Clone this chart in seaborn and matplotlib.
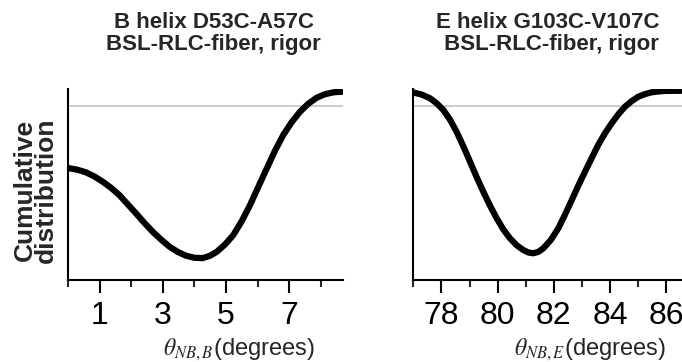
import matplotlib
matplotlib.use('Agg')
import matplotlib.pyplot as plt
from matplotlib.ticker import FixedLocator
import seaborn as sns

# B helix curve
b_theta = [0.0, 0.30, 0.57, 0.83, 1.10, 1.36, 1.62, 1.88, 2.15, 2.41, 2.68, 2.95,
           3.21, 3.47, 3.73, 4.00, 4.26, 4.50, 4.71, 4.97, 5.23, 5.50, 5.76, 6.03,
           6.29, 6.55, 6.81, 7.08, 7.34, 7.60, 7.87, 8.13, 8.40, 8.70]
b_cum = [0.645, 0.635, 0.620, 0.597, 0.566, 0.531, 0.490, 0.438, 0.384, 0.330, 0.278,
         0.232, 0.192, 0.162, 0.140, 0.128, 0.126, 0.140, 0.163, 0.205, 0.259, 0.340,
         0.432, 0.540, 0.643, 0.745, 0.835, 0.910, 0.969, 1.015, 1.050, 1.070, 1.081,
         1.085]

# E helix curve
e_theta = [77.0, 77.30, 77.59, 77.83, 78.07, 78.30, 78.54, 78.78, 79.02, 79.25, 79.49,
           79.73, 79.97, 80.20, 80.44, 80.68, 80.91, 81.10, 81.27, 81.45, 81.63, 81.90,
           82.16, 82.40, 82.64, 82.87, 83.11, 83.35, 83.58, 83.82, 84.06, 84.30, 84.53,
           84.77, 85.01, 85.25, 85.48, 85.72, 85.96, 86.60]
e_cum = [1.080, 1.068, 1.047, 1.018, 0.979, 0.925, 0.854, 0.770, 0.681, 0.594, 0.509,
         0.428, 0.355, 0.292, 0.240, 0.200, 0.173, 0.158, 0.154, 0.162, 0.183, 0.232,
         0.298, 0.377, 0.461, 0.543, 0.624, 0.703, 0.778, 0.845, 0.903, 0.955, 0.998,
         1.030, 1.056, 1.071, 1.081, 1.086, 1.089, 1.090]

b_major = [1, 3, 5, 7]
b_minor = [0, 2, 4, 6, 8]
e_major = [78, 80, 82, 84, 86]
e_minor = [77, 79, 81, 83, 85]

titles = ['B helix D53C-A57C\nBSL-RLC-fiber, rigor',
          'E helix G103C-V107C\n BSL-RLC-fiber, rigor']
xlabels = [r'$\theta_{NB,B}$(degrees)', r'$\theta_{NB,E}$(degrees)']

sns.set_style('ticks')
plt.rcParams['font.family'] = ['Liberation Sans', 'DejaVu Sans']
plt.rcParams['mathtext.fontset'] = 'stix'

fig = plt.figure(figsize=(6.82, 3.62), dpi=100)
ax1 = fig.add_axes([68 / 682, 82 / 362, 275 / 682, 191 / 362])
ax2 = fig.add_axes([413.3 / 682, 82 / 362, 269.8 / 682, 191 / 362])

panels = [
    (ax1, b_theta, b_cum, (0, 8.7), b_major, b_minor, 0.53, 0.62),
    (ax2, e_theta, e_cum, (77, 86.6), e_major, e_minor, 0.50, 0.655),
]

for i, (ax, xs, ys, xlim, major, minor, tx, lx) in enumerate(panels):
    ax.axhline(1.0, color='#c4c4c4', lw=1.2, zorder=1)
    sns.lineplot(x=xs, y=ys, ax=ax, color='black', lw=4.5, zorder=3,
                 solid_joinstyle='round', solid_capstyle='butt')
    ax.set_xlim(*xlim)
    ax.set_ylim(0, 1.1)
    ax.xaxis.set_major_locator(FixedLocator(major))
    ax.xaxis.set_minor_locator(FixedLocator(minor))
    ax.set_yticks([])
    for side in ['top', 'right']:
        ax.spines[side].set_visible(False)
    for side in ['left', 'bottom']:
        ax.spines[side].set_linewidth(1.5)
        ax.spines[side].set_color('black')
    ax.tick_params(axis='x', which='major', length=9, width=1.5, pad=6,
                   labelsize=23, colors='black')
    ax.tick_params(axis='x', which='minor', length=5, width=1.5)
    ax.set_title(titles[i], fontsize=16, fontweight='bold', x=tx, pad=28,
                 linespacing=1.05)
    ax.set_xlabel(xlabels[i], fontsize=17)
    ax.xaxis.set_label_coords(lx, -0.295)

ax1.set_ylabel('Cumulative\ndistribution', fontsize=19, fontweight='bold',
               linespacing=0.85)
ax1.yaxis.set_label_coords(-0.035, 0.47)

fig.savefig('out.png', dpi=100)
